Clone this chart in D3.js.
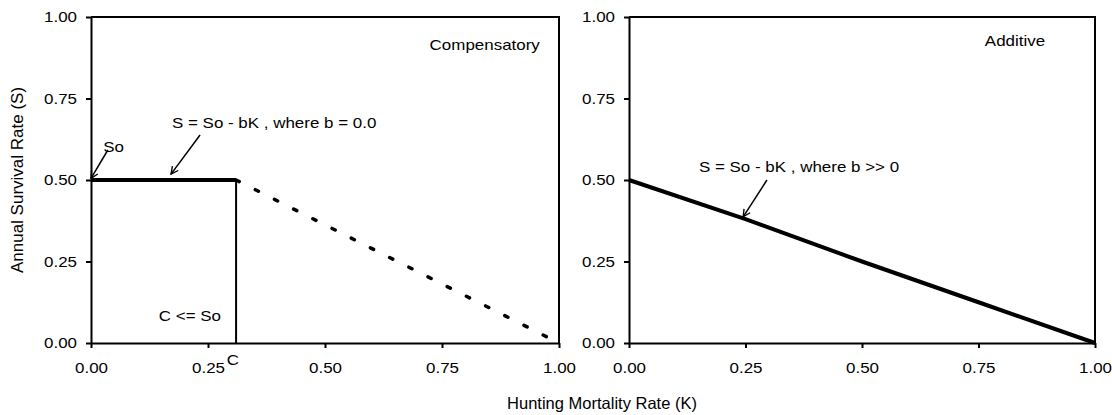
<!DOCTYPE html>
<html>
<head>
<meta charset="utf-8">
<script src="https://cdn.jsdelivr.net/npm/d3@7"></script>
<style>
  body { margin: 0; background: #fff; }
  text { font-family: Arial, "Liberation Sans", sans-serif; fill: #000; }
</style>
</head>
<body>
<div id="chart"></div>
<script>
// values
var tickValues = [0, 0.25, 0.5, 0.75, 1.0];

var compSolidK = [0, 0.31], compSolidS = [0.5, 0.5];       // compensatory, b = 0
var compDashK = [0.31, 1.0], compDashS = [0.5, 0.0];       // beyond threshold C
var thresholdK = [0.31, 0.31], thresholdS = [0.5, 0.0];    // vertical line at C

var addK = [0, 0.25, 0.5, 0.75, 1.0];                      // additive, b >> 0
var addS = [0.5, 0.38, 0.25, 0.125, 0.0];

var W = 1112, H = 415;
var stretch = 1.13; // text in the picture looks slightly wide

var svg = d3.select("#chart").append("svg")
    .attr("width", W)
    .attr("height", H);

var defs = svg.append("defs");
defs.append("marker")
    .attr("id", "arrow")
    .attr("viewBox", "0 0 10 10")
    .attr("refX", 9).attr("refY", 5)
    .attr("markerWidth", 9).attr("markerHeight", 9)
    .attr("markerUnits", "userSpaceOnUse")
    .attr("orient", "auto")
  .append("path")
    .attr("d", "M1,1 L9,5 L1,9")
    .attr("fill", "none")
    .attr("stroke", "#000")
    .attr("stroke-width", 1.5);

function zip(xs, ys) { return xs.map(function(x, i) { return {k: x, s: ys[i]}; }); }

function panel(left, right) {
  var xScale = d3.scaleLinear().domain([0, 1]).range([left, right]);
  var yScale = d3.scaleLinear().domain([0, 1]).range([343, 17]);
  var g = svg.append("g");

  g.append("g")
      .attr("transform", "translate(0,343)")
      .call(d3.axisBottom(xScale).tickValues(tickValues).tickFormat(d3.format(".2f"))
        .tickSize(5).tickSizeOuter(0).tickPadding(14))
      .call(function(a) {
        a.select(".domain").attr("stroke-width", 2);
        a.selectAll(".tick line").attr("stroke-width", 2);
        a.selectAll(".tick text").attr("font-size", 15).attr("font-family", null)
          .attr("transform", "scale(" + stretch + ",1)")
          .attr("x", 0);
      });

  g.append("g")
      .attr("transform", "translate(" + left + ",0)")
      .call(d3.axisLeft(yScale).tickValues(tickValues).tickFormat(d3.format(".2f"))
        .tickSize(5).tickSizeOuter(0).tickPadding(7.4))
      .call(function(a) {
        a.select(".domain").attr("stroke-width", 2);
        a.selectAll(".tick line").attr("stroke-width", 2);
        a.selectAll(".tick text").attr("font-size", 15).attr("font-family", null)
          .attr("transform", "scale(" + stretch + ",1)");
      });

  // frame (top + right)
  g.append("path")
      .attr("d", "M" + left + "," + yScale(1) + "H" + right + "V" + yScale(0))
      .attr("fill", "none")
      .attr("stroke", "#000")
      .attr("stroke-width", 2);

  return {g: g, x: xScale, y: yScale};
}

function label(p, txt, k, s, anchor) {
  p.g.append("text")
      .attr("transform", "translate(" + p.x(k) + "," + p.y(s) + ") scale(" + stretch + ",1)")
      .attr("text-anchor", anchor || "start")
      .style("font-size", "15px")
      .text(txt);
}

function arrow(p, k0, s0, k1, s1) {
  p.g.append("line")
      .attr("x1", p.x(k0)).attr("y1", p.y(s0))
      .attr("x2", p.x(k1)).attr("y2", p.y(s1))
      .attr("stroke", "#000")
      .attr("stroke-width", 1.5)
      .attr("marker-end", "url(#arrow)");
}

// ---- left panel: compensatory
var p1 = panel(91, 559);
var line1 = d3.line().x(function(d) { return p1.x(d.k); }).y(function(d) { return p1.y(d.s); });

p1.g.append("path")
    .datum(zip(thresholdK, thresholdS))
    .attr("fill", "none").attr("stroke", "#000").attr("stroke-width", 2)
    .attr("d", line1);

p1.g.append("path")
    .datum(zip(compDashK, compDashS))
    .attr("fill", "none").attr("stroke", "#000").attr("stroke-width", 3.5)
    .attr("stroke-linecap", "round")
    .attr("stroke-dasharray", "3.5,18")
    .attr("d", line1);

p1.g.append("path")
    .datum(zip(compSolidK, compSolidS))
    .attr("fill", "none").attr("stroke", "#000").attr("stroke-width", 4)
    .attr("d", line1);

label(p1, "Compensatory", 0.959, 0.899, "end");
label(p1, "So", 0.026, 0.586);
arrow(p1, 0.036, 0.592, 0.0, 0.505);
label(p1, "S = So - bK , where b = 0.0", 0.173, 0.66);
arrow(p1, 0.233, 0.638, 0.171, 0.518);
label(p1, "C <= So", 0.145, 0.067);
p1.g.append("text")
    .attr("transform", "translate(" + p1.x(0.303) + "," + (p1.y(0) + 22) + ") scale(" + stretch + ",1)")
    .attr("text-anchor", "middle")
    .style("font-size", "15px")
    .text("C");

// ---- right panel: additive
var p2 = panel(629, 1095);
var line2 = d3.line().x(function(d) { return p2.x(d.k); }).y(function(d) { return p2.y(d.s); });

p2.g.append("path")
    .datum(zip(addK, addS))
    .attr("fill", "none").attr("stroke", "#000").attr("stroke-width", 4)
    .attr("stroke-linejoin", "round")
    .attr("d", line2);

label(p2, "Additive", 0.893, 0.911, "end");
label(p2, "S = So - bK , where b >> 0", 0.150, 0.525);
arrow(p2, 0.296, 0.5, 0.245, 0.387);

// ---- axis titles
svg.append("text")
    .attr("transform", "translate(23,180) rotate(-90)")
    .attr("text-anchor", "middle")
    .style("font-size", "17px")
    .text("Annual Survival Rate (S)");

svg.append("text")
    .attr("x", 602)
    .attr("y", 409)
    .attr("text-anchor", "middle")
    .style("font-size", "16.5px")
    .text("Hunting Mortality Rate (K)");
</script>
</body>
</html>
